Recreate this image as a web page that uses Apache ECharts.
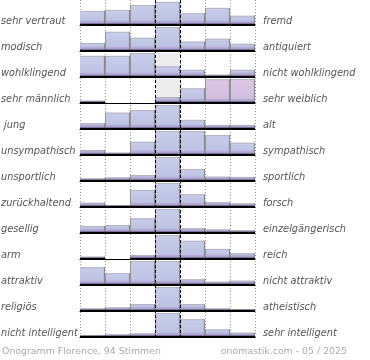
<!DOCTYPE html>
<html><head><meta charset="utf-8">
<script src="https://cdn.jsdelivr.net/npm/echarts@6/dist/echarts.min.js"></script>
<style>html,body{margin:0;padding:0;background:#fff}#c{width:370px;height:360px}</style>
</head><body><div id="c"></div>
<script>
const leftLabels = ['sehr vertraut','modisch','wohlklingend','sehr männlich',' jung','unsympathisch','unsportlich','zurückhaltend','gesellig','arm','attraktiv','religiös','nicht intelligent'];
const rightLabels = ['fremd','antiquiert','nicht wohlklingend','sehr weiblich','alt','sympathisch','sportlich','forsch','einzelgängerisch','reich','nicht attraktiv','atheistisch','sehr intelligent'];
const columns = ['1','2','3','4','5','6','7'];
const vertraut = [61,65,86,100,51,74,40];
const modisch = [33,80,55,100,39,51,30];
const wohlklingend = [88,88,100,44,30,10,30];
const maennlich = [10,0,0,25,61,99,100];
const jung = [24,68,79,100,38,17,17];
const sympathisch = [21,10,55,100,100,83,51];
const sportlich = [11,15,25,100,50,18,17];
const forsch = [18,7,71,100,53,20,15];
const gesellig = [29,33,61,100,20,15,12];
const reich = [10,0,17,100,76,42,24];
const attraktiv = [74,49,100,100,24,14,18];
const religioes = [11,15,29,100,29,11,7];
const intelligent = [7,11,15,100,74,32,18];
const rows = [vertraut,modisch,wohlklingend,maennlich,jung,sympathisch,sportlich,forsch,gesellig,reich,attraktiv,religioes,intelligent];
const footerLeft = 'Onogramm Florence, 94 Stimmen';
const footerRight = 'onomastik.com - 05 / 2025';

const ROW_H = 26, FIRST_BASE = 25, LEFT = 80, WIDTH = 175, BAR_MAX_PX = 24;
const YMAX = 100 * ROW_H / BAR_MAX_PX;
const genderRow = 3;

const grids = [], xAxes = [], yAxes = [], series = [], graphics = [];

rows.forEach((vals, r) => {
  const base = FIRST_BASE + ROW_H * r;
  grids.push({left: LEFT, width: WIDTH, top: base - ROW_H, height: ROW_H});
  xAxes.push({type:'category', gridIndex:r, data:columns, boundaryGap:true,
    axisLine:{show:true, onZero:false, lineStyle:{color:'#000', width:1}},
    axisTick:{show:false}, axisLabel:{show:false}, splitLine:{show:false}});
  yAxes.push({type:'value', gridIndex:r, min:0, max:YMAX, show:false});
  const rowMax = Math.max(...vals);
  series.push({
    type:'custom', xAxisIndex:r, yAxisIndex:r, z:2, silent:true,
    data: vals.map((v,i)=>[i,v]),
    renderItem: function(params, api){
      const idx = api.value(0), v = api.value(1);
      const b = api.coord([idx, 0]);
      const t = api.coord([idx, v]);
      const full = api.coord([idx, 100]);
      const w = api.size([1,0])[0];
      const x0 = b[0]-w/2, x1 = b[0]+w/2;
      const h = b[1]-t[1];
      const ch = [];
      if (idx === 3 && v < rowMax) {
        ch.push({type:'rect', shape:{x:x0, y:full[1], width:w, height:b[1]-full[1]}, style:{fill:'#ececec'}});
      }
      if (h > 0.3) {
        const pink = (r === genderRow && idx >= 5);
        const topC = pink ? '#dcc6e4' : '#c8cdea';
        const midC = pink ? '#d3bfe0' : '#bfc3e4';
        const s1 = Math.max(0, 1 - 5/h), s2 = Math.max(0, 1 - 2.5/h);
        ch.push({type:'rect', shape:{x:x0, y:t[1], width:w, height:h},
          style:{fill:{type:'linear', x:0,y:0,x2:0,y2:1, colorStops:[
            {offset:0,color:topC},{offset:s1,color:midC},{offset:s2,color:'#aca2d2'},{offset:1,color:'#9a8cc4'}]}}});
        ch.push({type:'line', shape:{x1:x0, y1:t[1]+0.5, x2:x1, y2:t[1]+0.5}, style:{stroke:'#b4b4c0', lineWidth:1}});
        if (idx > 0) ch.push({type:'line', shape:{x1:x0+0.5, y1:t[1], x2:x0+0.5, y2:b[1]}, style:{stroke:'#949494', lineWidth:1}});
        ch.push({type:'line', shape:{x1:x1-0.5, y1:t[1], x2:x1-0.5, y2:b[1]}, style:{stroke:'#8c8c8c', lineWidth:1.2}});
        ch.push({type:'line', shape:{x1:x0, y1:b[1]-0.5, x2:x1, y2:b[1]-0.5}, style:{stroke:'#000', lineWidth:1.5}});
      }
      return {type:'group', children:ch};
    }
  });
  graphics.push({type:'text', left:1, top: base-9, silent:true,
    style:{text:leftLabels[r], fill:'#555', font:'italic 9.8px "DejaVu Sans"'}});
  graphics.push({type:'text', left:263, top: base-9, silent:true,
    style:{text:rightLabels[r], fill:'#555', font:'italic 9.8px "DejaVu Sans"'}});
});

// overlay grid with column separators
const ov = rows.length;
grids.push({left: LEFT, width: WIDTH, top: 0, height: FIRST_BASE + ROW_H*(rows.length-1) + 1});
xAxes.push({type:'value', gridIndex:ov, min:0, max:columns.length, interval:1,
  axisLine:{show:false}, axisTick:{show:false}, axisLabel:{show:false},
  splitLine:{show:true, lineStyle:{color:'#999', width:1, type:[1,2]}}});
yAxes.push({type:'value', gridIndex:ov, min:0, max:1, show:false});
series.push({type:'line', xAxisIndex:ov, yAxisIndex:ov, data:[], z:10, silent:true,
  markLine:{silent:true, symbol:['none','none'], label:{show:false},
    lineStyle:{color:'#000', width:1, type:[3,2]},
    data:[{xAxis:3},{xAxis:4}]}});

graphics.push({type:'text', left:2, top:347, silent:true,
  style:{text:footerLeft, fill:'#aaa', font:'9.4px "DejaVu Sans"'}});
graphics.push({type:'text', right:23, top:347, silent:true,
  style:{text:footerRight, fill:'#aaa', font:'9.4px "DejaVu Sans"'}});

const chart = echarts.init(document.getElementById('c'), null, {renderer:'canvas'});
chart.setOption({animation:false, backgroundColor:'#fff', grid:grids, xAxis:xAxes, yAxis:yAxes, series:series, graphic:graphics});
</script></body></html>
